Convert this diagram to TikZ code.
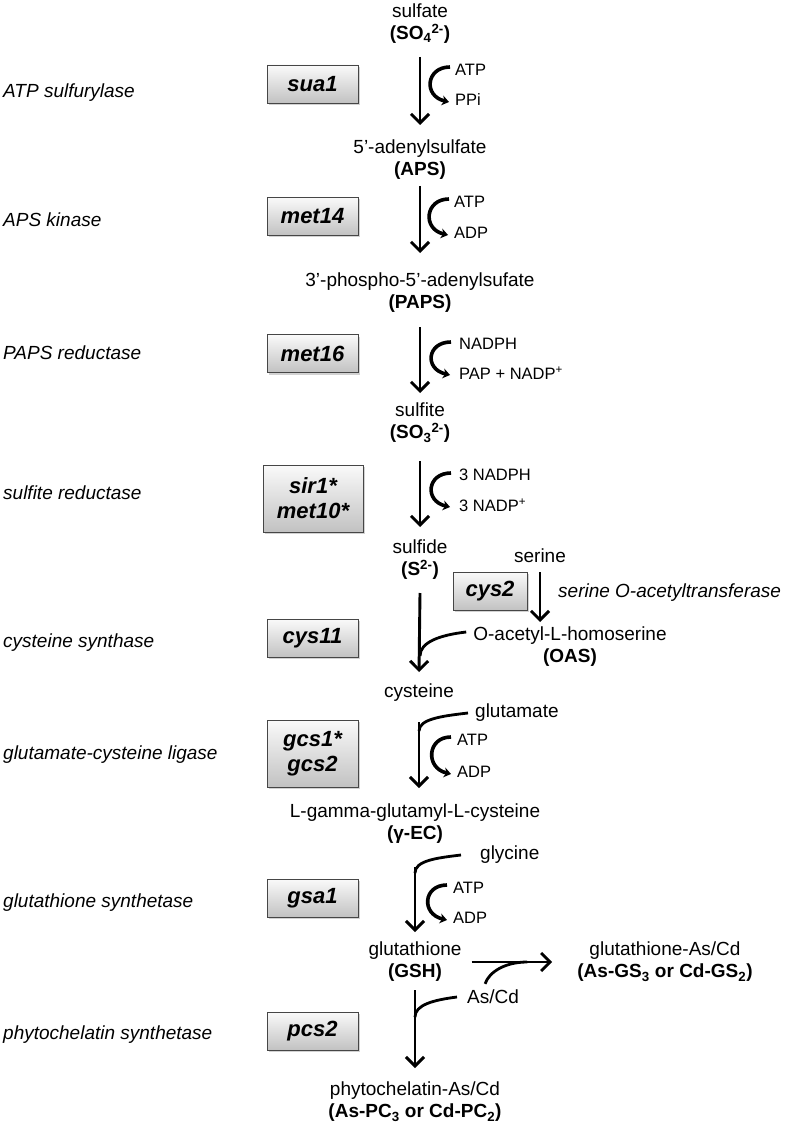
\documentclass[tikz,border=0pt]{standalone}
\usepackage{fontspec}
\setmainfont{Liberation Sans}
\usetikzlibrary{arrows.meta,shadows}
\begin{document}
\begin{tikzpicture}[x=1pt,y=-1pt,
  cmpd/.style={font=\fontsize{19}{22}\selectfont, align=center, inner sep=0pt},
  cof/.style={font=\fontsize{16.5}{19}\selectfont, anchor=west, inner sep=0pt},
  enz/.style={font=\fontsize{19}{22}\selectfont\itshape, anchor=west, inner sep=0pt},
  gene/.style={draw=gray!55!black, line width=0.9pt, top color=gray!4, bottom color=gray!48,
    font=\fontsize{22}{25}\selectfont\bfseries\itshape, minimum width=91pt, minimum height=38pt,
    align=center, inner sep=0pt,
    drop shadow={shadow xshift=2pt, shadow yshift=-2pt, fill=gray!70, opacity=0.5}},
  arr/.style={line width=2.9pt, -{Straight Barb[length=9pt,width=18pt]}},
  merge/.style={line width=2.8pt},
  cofarr/.style={line width=3.6pt, -{Stealth[length=7pt,width=10pt]}}
]
\useasboundingbox (0,0) rectangle (789,1126);

% compounds
\node[cmpd] (sulfate) at (420,23.5) {sulfate\\\textbf{(SO\textsubscript{4}\textsuperscript{2-})}};
\node[cmpd] (aps) at (420,159.5) {5’-adenylsulfate\\\textbf{(APS)}};
\node[cmpd] (paps) at (420,292.5) {3’-phospho-5’-adenylsufate\\\textbf{(PAPS)}};
\node[cmpd] (sulfite) at (420,423) {sulfite\\\textbf{(SO\textsubscript{3}\textsuperscript{2-})}};
\node[cmpd] (sulfide) at (420,560) {sulfide\\\textbf{(S\textsuperscript{2-})}};
\node[cmpd] (serine) at (540,556) {serine};
\node[cmpd] (oas) at (570,647) {O-acetyl-L-homoserine\\\textbf{(OAS)}};
\node[cmpd] (cys) at (419,693) {cysteine};
\node[cmpd, anchor=west] (glu) at (475,713) {glutamate};
\node[cmpd] (gec) at (415,823.5) {L-gamma-glutamyl-L-cysteine\\\textbf{(γ-EC)}};
\node[cmpd, anchor=west] (gly) at (480,855) {glycine};
\node[cmpd] (gsh) at (415,962) {glutathione\\\textbf{(GSH)}};
\node[cmpd] (gsas) at (665,962) {glutathione-As/Cd\\\textbf{(As-GS\textsubscript{3} or Cd-GS\textsubscript{2})}};
\node[cmpd, anchor=west] (ascd) at (467,997) {As/Cd};
\node[cmpd] (pc) at (415,1102) {phytochelatin-As/Cd\\\textbf{(As-PC\textsubscript{3} or Cd-PC\textsubscript{2})}};

% cofactors
\node[cof] (atp1) at (455,70) {ATP};
\node[cof] (ppi1) at (455,100) {PPi};
\node[cof] (atp2) at (454,202) {ATP};
\node[cof] (adp2) at (454,233) {ADP};
\node[cof] (nadph3) at (459,344) {NADPH};
\node[cof] (pap3) at (459,373) {PAP + NADP\textsuperscript{+}};
\node[cof] (nadph4) at (459,475) {3 NADPH};
\node[cof] (nadp4) at (459,505) {3 NADP\textsuperscript{+}};
\node[cof] (atp6) at (457,740) {ATP};
\node[cof] (adp6) at (457,772) {ADP};
\node[cof] (atp7) at (453,888) {ATP};
\node[cof] (adp7) at (453,918) {ADP};

% enzyme names
\node[enz] (e1) at (3,93) {ATP sulfurylase};
\node[enz] (e2) at (3,220) {APS kinase};
\node[enz] (e3) at (3,353) {PAPS reductase};
\node[enz] (e4) at (3,493) {sulfite reductase};
\node[enz] (e5) at (3,643) {cysteine synthase};
\node[enz] (e6) at (3,755) {glutamate-cysteine ligase};
\node[enz] (e7) at (3,903) {glutathione synthetase};
\node[enz] (e8) at (3,1035) {phytochelatin synthetase};
\node[enz] (esat) at (558,593) {serine O-acetyltransferase};

% genes
\node[gene] (sua1) at (312.5,84) {sua1};
\node[gene] (met14) at (312.5,216) {met14};
\node[gene] (met16) at (312.5,353.5) {met16};
\node[gene, minimum width=100pt, minimum height=67pt] (sir) at (313,498.5) {sir1*\\met10*};
\node[gene, minimum width=74pt] (cys2) at (490,591) {cys2};
\node[gene] (cys11) at (312.5,638) {cys11};
\node[gene, minimum height=67pt] (gcs) at (312.5,753.5) {gcs1*\\gcs2};
\node[gene] (gsa1) at (312.5,898) {gsa1};
\node[gene] (pcs2) at (312.5,1031) {pcs2};

% main arrows
\draw[arr] (sulfate |- 0,57) -- (aps |- 0,125);
\draw[arr] (aps |- 0,186) -- (paps |- 0,253);
\draw[arr] (paps |- 0,327) -- (sulfite |- 0,393);
\draw[arr] (sulfite |- 0,461) -- (sulfide |- 0,527);
\draw[arr] (sulfide |- 0,593) -- (cys |- 0,672);
\draw[arr] (serine |- 0,572) -- (serine |- 0,622);
\draw[arr] (cys |- 0,722) -- (cys |- 0,788);
\draw[arr] (gec |- 0,867) -- (gec |- 0,932);
\draw[arr] (gsh |- 0,990) -- (pc |- 0,1068);
\draw[arr] ([xshift=10pt]gsh.east) -- ([xshift=-25pt]gsas.west);

% merging substrates
\draw[merge] ([xshift=-7pt,yshift=15pt]oas.west) .. controls +(-26pt,-3pt) and +(0pt,14pt) .. (sulfide |- 0,656);
\draw[merge] ([xshift=-7pt]glu.west) .. controls +(-26pt,-3pt) and +(0pt,12pt) .. (cys |- 0,731);
\draw[merge] ([xshift=-19pt]gly.west) .. controls +(-26pt,-3pt) and +(0pt,12pt) .. (gec |- 0,873);
\draw[merge] ([xshift=-10pt]ascd.west) .. controls +(-24pt,-3pt) and +(0pt,12pt) .. (gsh |- 0,1017);
\draw[merge] ([xshift=-8pt,yshift=6pt]ascd.north) .. controls +(4pt,12pt) and +(-22pt,0pt) .. ([xshift=-50pt]gsas.west);

% cofactor curves
\draw[cofarr] ([xshift=-5pt,yshift=3pt]atp1.west) .. controls +(-24pt,0pt) and +(-26pt,6pt) .. ([xshift=-6pt,yshift=-2pt]ppi1.west);
\draw[cofarr] ([xshift=-5pt,yshift=3pt]atp2.west) .. controls +(-24pt,0pt) and +(-26pt,6pt) .. ([xshift=-6pt,yshift=-2pt]adp2.west);
\draw[cofarr] ([xshift=-8pt,yshift=2pt]nadph3.west) .. controls +(-24pt,0pt) and +(-26pt,6pt) .. ([xshift=-9pt,yshift=-2pt]pap3.west);
\draw[cofarr] ([xshift=-8pt,yshift=2pt]nadph4.west) .. controls +(-24pt,0pt) and +(-26pt,6pt) .. ([xshift=-9pt,yshift=-2pt]nadp4.west);
\draw[cofarr] ([xshift=-6pt,yshift=3pt]atp6.west) .. controls +(-24pt,0pt) and +(-26pt,6pt) .. ([xshift=-6pt,yshift=-2pt]adp6.west);
\draw[cofarr] ([xshift=-6pt,yshift=3pt]atp7.west) .. controls +(-24pt,0pt) and +(-26pt,6pt) .. ([xshift=-6pt,yshift=-2pt]adp7.west);
\end{tikzpicture}
\end{document}
